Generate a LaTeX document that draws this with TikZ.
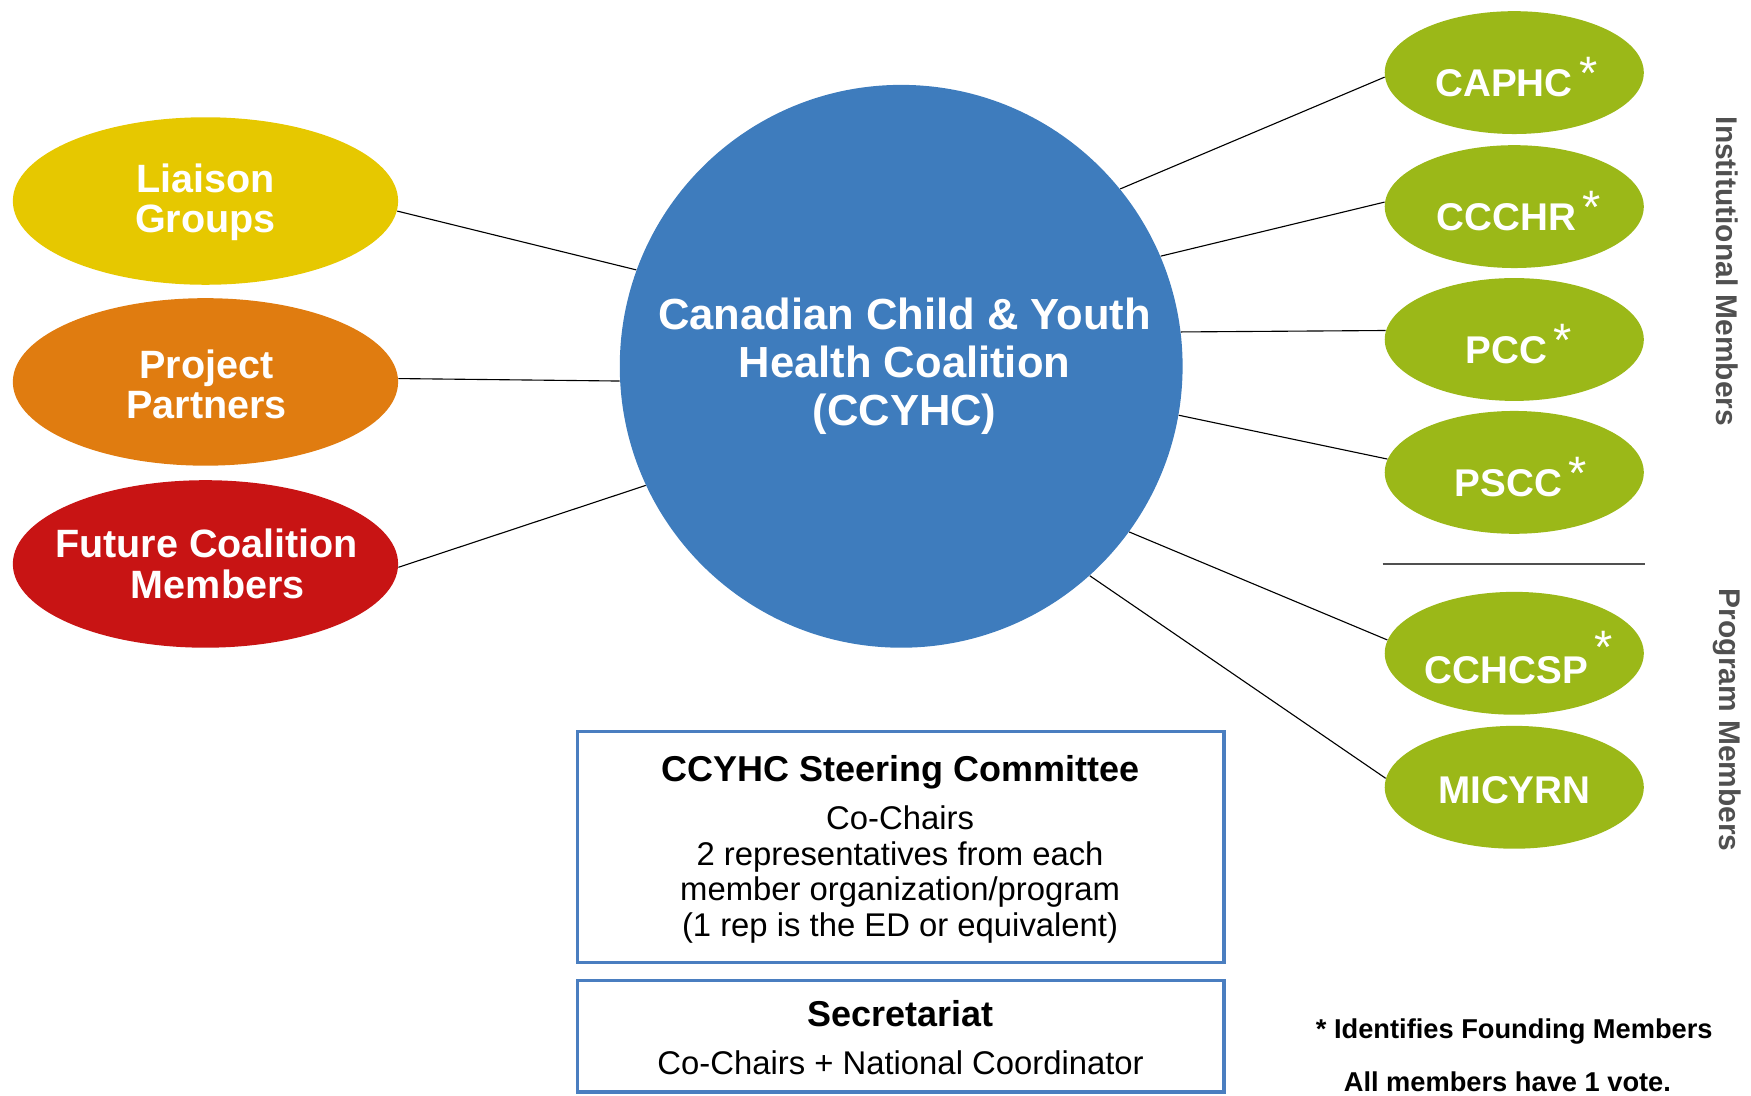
\documentclass[tikz,border=0pt]{standalone}
\usepackage{fontspec}
\setmainfont{Liberation Sans}
\usetikzlibrary{shapes.geometric}
\definecolor{cyellow}{RGB}{230,200,0}
\definecolor{corange}{RGB}{224,124,16}
\definecolor{cred}{RGB}{200,20,20}
\definecolor{cblue}{RGB}{62,124,189}
\definecolor{cgreen}{RGB}{155,184,24}
\definecolor{cframe}{RGB}{74,126,192}
\definecolor{clabel}{RGB}{80,80,80}
\newcommand\founder[1][3pt]{\hspace{3pt}\raisebox{#1}{\fontsize{21}{21}\selectfont\mdseries *}}
\begin{document}
\begin{tikzpicture}[x=0.5pt,y=-0.5pt,
  conn/.style={draw=black, line width=0.5pt},
  lblob/.style={ellipse, inner sep=0pt, minimum width=172.5pt, minimum height=75pt},
  gblob/.style={ellipse, inner sep=0pt, fill=cgreen, minimum width=116pt, minimum height=55pt},
  ltext/.style={text=white, font=\fontsize{17.7}{18}\selectfont\bfseries, align=center, inner sep=0pt},
  gtext/.style={text=white, font=\fontsize{17.3}{18}\selectfont\bfseries, inner sep=0pt},
  framebox/.style={draw=cframe, line width=1.5pt, fill=white, inner sep=0pt, minimum width=289.5pt},
  ttext/.style={text=black, font=\fontsize{16.1}{18}\selectfont\bfseries, inner sep=0pt},
  btext/.style={text=black, font=\fontsize{14.7}{16}\selectfont, align=center, inner sep=0pt},
  foot/.style={text=black, font=\fontsize{12.2}{14}\selectfont\bfseries, inner sep=0pt},
  side/.style={text=clabel, font=\fontsize{13.4}{15}\selectfont\bfseries, inner sep=0pt}
]
\useasboundingbox (0,0) rectangle (1568,981);

% left ellipses
\node[lblob, fill=cyellow] (lg) at (184,180) {};
\node[ltext] (lgt) at (184,181) {Liaison\\Groups};
\node[lblob, fill=corange] (pp) at (184,342) {};
\node[ltext] (ppt) at (185,344) {Project\\Partners};
\node[lblob, fill=cred] (fc) at (184,505) {};
\node[ltext] (fct) at (185,505) {Future Coalition\\\hspace*{10pt}Members};

% central circle
\node[circle, fill=cblue, minimum size=252pt, inner sep=0pt] (cc) at (807,328) {};
\node[text=white, font=\fontsize{19.5}{21.5}\selectfont\bfseries, align=center, inner sep=0pt] (cct) at (810,328)
  {Canadian Child \& Youth\\Health Coalition\\(CCYHC)};

% green ellipses
\node[gblob] (caphc) at (1356,65) {};
\node[gtext] (caphct) at (1358,69) {CAPHC\founder};
\node[gblob] (ccchr) at (1356,185) {};
\node[gtext] (ccchrt) at (1360,189) {CCCHR\founder};
\node[gblob] (pcc) at (1356,304) {};
\node[gtext] (pcct) at (1360,308) {PCC\founder};
\node[gblob] (pscc) at (1356,423) {};
\node[gtext] (pscct) at (1362,427) {PSCC\founder};
\node[gblob] (cchcsp) at (1356,585) {};
\node[gtext] (cchcspt) at (1360,589) {CCHCSP\founder[9pt]};
\node[gblob] (micyrn) at (1356,705) {};
\node[gtext] (micyrnt) at (1356,708) {MICYRN};

% connectors
\draw[conn] (lg.-3) -- (cc.160);
\draw[conn] (pp.1) -- (cc.183);
\draw[conn] (fc.-1) -- (cc.205);
\draw[conn] (cc.39) -- (caphc.182);
\draw[conn] (cc.23) -- (ccchr.178);
\draw[conn] (cc.7) -- (pcc.176);
\draw[conn] (cc.-10) -- (pscc.174);
\draw[conn] (cc.-36) -- (cchcsp.174);
\draw[conn] (cc.-48) -- (micyrn.176);

% separator
\draw[draw=clabel, line width=0.6pt] (1238,505) -- (1473,505);

% side labels
\node[side, rotate=-90] (inst) at (1547,243) {Institutional Members};
\node[side, rotate=-90] (prog) at (1547,645) {Program Members};

% steering committee
\node[framebox, minimum height=103.5pt] (sc) at (806.5,758.5) {};
\node[ttext, anchor=base] (sct) at (806.5,699.5) {CCYHC Steering Committee};
\node[btext] (scb) at (806,783) {Co-Chairs\\2 representatives from each\\member organization/program\\(1 rep is the ED or equivalent)};

% secretariat
\node[framebox, minimum height=50pt] (sec) at (806.5,928) {};
\node[ttext, anchor=base] (sect) at (806.5,919.5) {Secretariat};
\node[btext, anchor=base] (secb) at (806.5,962.5) {Co-Chairs + National Coordinator};

% footnotes
\node[foot, anchor=base west] (f1) at (1178,929.5) {* Identifies Founding Members};
\node[foot, anchor=base west] (f2) at (1203,977) {All members have 1 vote.};
\end{tikzpicture}
\end{document}
